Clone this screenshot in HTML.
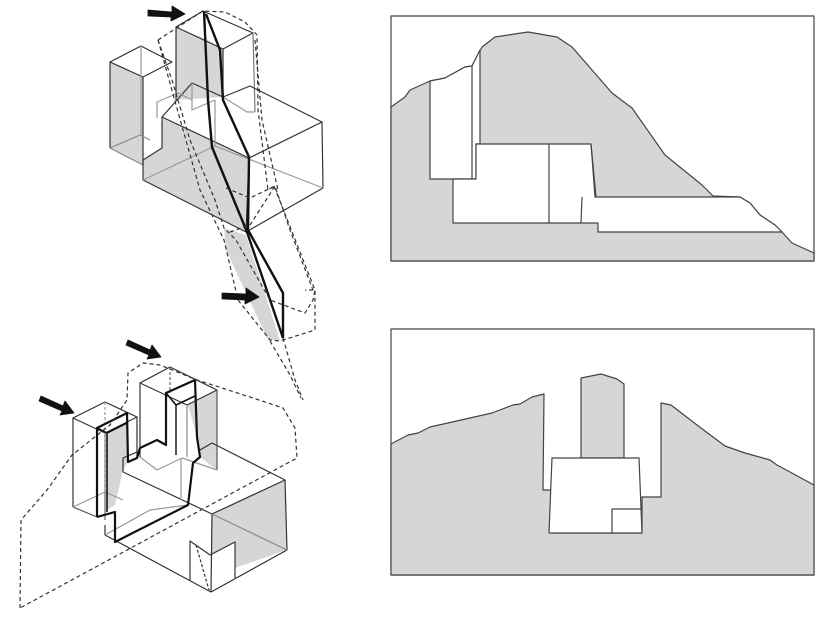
<!DOCTYPE html>
<html><head><meta charset="utf-8"><style>html,body{margin:0;padding:0;background:#fff}svg{display:block}</style></head>
<body>
<svg width="840" height="621" viewBox="0 0 840 621" xmlns="http://www.w3.org/2000/svg" fill="none" stroke="#333" stroke-width="1.2" stroke-linejoin="round">
<!-- ===== TOP AXONOMETRIC ===== -->
<g>
<polygon points="110,62 143,77 143,165 110,148" fill="#d6d6d8" stroke="none"/>
<polygon points="176,27 208,40 223,50 223,97 176,100" fill="#d6d6d8" stroke="none"/>
<polygon points="162,117 249,158 246,232 143,180 143,160 162,148" fill="#d6d6d8" stroke="none"/>
<polygon points="224,228 246,235 280,340 268,340 226,250" fill="#d6d6d8" stroke="none"/>
<polyline points="110,148 110,62 141,46 172,62 143,77 110,62"/>
<line x1="143" y1="77" x2="143" y2="165"/>
<polyline points="110,148 143,165" stroke="#888"/>
<polyline points="110,148 140,135 150,140" stroke="#888"/>
<line x1="141" y1="46" x2="141" y2="135" stroke="#999"/>
<polyline points="176,100 176,27 203,11 253,33 223,49 176,27"/>
<line x1="223" y1="49" x2="223" y2="97"/>
<line x1="253" y1="33" x2="255" y2="112" stroke="#777"/>
<polyline points="223,97 247,112 255,112" stroke="#999"/>
<polyline points="143,160 162,148 162,117 192,83 223,97 250,86 322,122 249,158 162,117"/>
<polyline points="143,160 143,180 246,232 323,188 322,122"/>
<line x1="249" y1="158" x2="246" y2="232"/>
<polyline points="143,180 215,146 323,188" stroke="#999"/>
<polyline points="157,118 157,102 178,93 192,100" stroke="#999"/>
<polyline points="192,83 192,110 215,100" stroke="#999"/>
<line x1="215" y1="100" x2="215" y2="146" stroke="#999"/>
<polyline points="204,11 208,100 212,147 247,232 283,338" stroke="#111" stroke-width="2.4"/>
<polyline points="206,14 220,50 223,100 249,157 248,230 283,293 283,338" stroke="#111" stroke-width="2.4"/>
<g stroke-dasharray="4,3" stroke="#333">
<polyline points="158,40 203,11 225,12 245,22 257,35 258,110 268,190 275,186"/>
<polyline points="158,40 172,80 190,140 215,200 224,228 236,240 270,300 305,313 313,300 315,290 305,290"/>
<polyline points="158,40 178,112 200,190 224,240 238,300 270,340 280,341 315,330 315,290 274,186"/>
<polyline points="230,232 250,225 275,186 290,230 313,290"/>
<polyline points="226,188 250,198 275,186"/>
<polyline points="283,338 295,380 303,400"/>
<polyline points="270,341 290,375 301,398"/>
<polyline points="255,40 262,120 278,190"/>
</g>
<polygon points="148,10 172,12 172,6 185,14 171,21 171,17 148,16" fill="#111" stroke="#111" stroke-width="0.8"/>
<polygon points="222,293 246,294 246,288 259,297 245,304 245,300 222,299" fill="#111" stroke="#111" stroke-width="0.8"/>
</g>

<!-- ===== BOTTOM AXONOMETRIC ===== -->
<g>
<!-- shading -->
<polygon points="107,433 128,423 128,462 123,470 115,505 107,510" fill="#d6d6d8" stroke="none"/>
<polygon points="188,405 217,390 217,470 200,457 197,437" fill="#d6d6d8" stroke="none"/>
<polygon points="212,514 285,480 287,550 235,568 235,542 212,555" fill="#d6d6d8" stroke="none"/>
<!-- left tower outer -->
<polyline points="73,507 73,418 105,402 137,417 105,433 73,418"/>
<line x1="137" y1="417" x2="137" y2="458"/>
<line x1="105" y1="433" x2="105" y2="520" stroke="#666"/>
<line x1="105" y1="402" x2="105" y2="490" stroke="#999" stroke-dasharray="3,2"/>
<polyline points="73,507 97,517 113,512" stroke="#555"/>
<polyline points="73,507 105,492 123,500" stroke="#999"/>
<!-- middle tower outer -->
<polyline points="140,457 140,383 170,367 217,390 187,405 140,383"/>
<line x1="217" y1="390" x2="217" y2="470" stroke="#555"/>
<line x1="187" y1="405" x2="187" y2="457" stroke="#888"/>
<polyline points="140,457 157,470 182,458 217,470" stroke="#999"/>
<line x1="170" y1="367" x2="170" y2="393" stroke="#666" stroke-dasharray="3,2"/>
<!-- main block -->
<polyline points="123,472 123,458 137,452"/>
<polyline points="123,472 212,514 285,480 212,443 200,450"/>
<polyline points="105,525 105,535 211,592 287,550 285,480"/>
<line x1="212" y1="514" x2="211" y2="592"/>
<line x1="212" y1="514" x2="287" y2="550" stroke="#888"/>
<polyline points="105,535 150,510 188,505" stroke="#999"/>
<line x1="181" y1="458" x2="181" y2="500" stroke="#999"/>
<!-- door -->
<polyline points="190,581 190,541 210,555 235,542 235,578"/>
<line x1="196" y1="545" x2="209" y2="590" stroke-dasharray="3,2"/>
<!-- thick path -->
<polyline points="97,517 97,428 127,413 128,462 137,458 140,448 157,440 166,445 166,393 195,380 197,437 200,457 193,463 188,505 115,542 115,512 97,517" stroke="#111" stroke-width="2.2"/>
<line x1="107" y1="433" x2="107" y2="512" stroke="#111" stroke-width="1.6"/>
<polyline points="97,428 107,433 127,423" stroke="#111" stroke-width="1.6"/>
<polyline points="166,393 176,405 195,396" stroke="#111" stroke-width="1.6"/>
<line x1="176" y1="405" x2="176" y2="455" stroke="#111" stroke-width="1.4"/>
<!-- dashed outline -->
<g stroke-dasharray="4,3">
<polyline points="20,608 21,520 47,490 72,455 110,425 127,400 128,373 143,363 160,365 197,380 253,398 283,408 295,428 297,458 20,608"/>
</g>
<polygon points="41,396 63,406 65,401 74,413 60,415 62,411 39,401" fill="#111" stroke="#111" stroke-width="0.8"/>
<polygon points="128,340 150,350 152,345 161,357 147,359 149,355 126,345" fill="#111" stroke="#111" stroke-width="0.8"/>
</g>

<!-- ===== TOP RIGHT PANEL ===== -->
<g stroke="#444" stroke-width="1.2">
<rect x="391" y="16" width="423" height="245" fill="#fff"/>
<polygon fill="#d6d6d8" points="391,107 405,97 410,90 430,81 445,78 465,67 472,66 475,60 482,47 495,37 528,32 557,37 572,47 592,70 612,93 632,108 665,155 702,185 713,196 740,197 750,203 760,215 775,225 782,232 792,243 814,253 814,261 391,261"/>
<polygon fill="#fff" points="430,81 445,78 465,67 472,66 475,60 480,50 480,144 476,144 476,179 430,179"/>
<line x1="472" y1="66" x2="472" y2="179"/>
<polygon fill="#fff" points="453,179 476,179 476,144 591,144 595,197 740,197 750,203 760,215 775,225 782,232 598,232 598,223 453,223"/>
<line x1="549" y1="144" x2="549" y2="223"/>
<line x1="581" y1="223" x2="582" y2="197"/>
<line x1="591" y1="144" x2="596" y2="197"/>
</g>

<!-- ===== BOTTOM RIGHT PANEL ===== -->
<g stroke="#444" stroke-width="1.2">
<rect x="391" y="329" width="423" height="246" fill="#fff"/>
<polygon fill="#d6d6d8" points="391,444 408,435 418,433 430,427 492,413 513,405 520,404 532,397 544,394 543,490 552,490 552,533 642,533 642,497 661,497 661,403 671,405 697,425 725,446 745,453 770,460 777,465 814,485 814,575 391,575"/>
<polygon fill="#d6d6d8" points="581,458 581,378 601,374 617,379 624,384 624,458"/>
<polygon fill="#fff" points="552,458 639,458 642,533 549,533"/>
<polyline points="612,533 612,509 642,509"/>
</g>
</svg>
</body></html>
